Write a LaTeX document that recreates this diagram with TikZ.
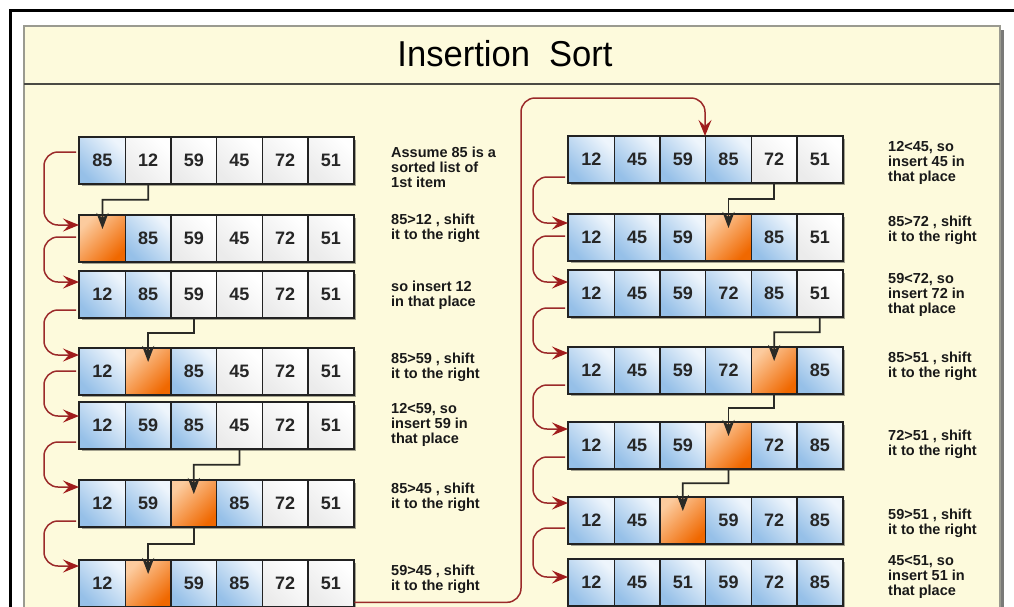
\documentclass[tikz,border=0pt]{standalone}
\usepackage{fontspec}
\usepackage{graphicx}
\setmainfont{Liberation Sans}
\usetikzlibrary{arrows.meta,calc}
\definecolor{cream}{HTML}{FDFADC}
\definecolor{redln}{HTML}{9B2A2A}
\definecolor{redhd}{HTML}{A01C1C}
\definecolor{blueL}{HTML}{EEF5FC}
\definecolor{blueD}{HTML}{96C0E8}
\definecolor{orgL}{HTML}{FCCB9E}
\definecolor{orgD}{HTML}{F06800}
\definecolor{whtL}{HTML}{FFFFFF}
\definecolor{whtD}{HTML}{EBEBEB}
\definecolor{cellbd}{HTML}{222222}
\definecolor{panelbd}{HTML}{9A9A90}
\definecolor{panelsh}{HTML}{7A7A78}
\definecolor{sepc}{HTML}{4A4A44}
\definecolor{blk}{HTML}{2A2A26}
\tikzset{
  cellbase/.style={draw=cellbd, line width=1.3pt, minimum width=45.67pt, minimum height=46pt,
    inner sep=0pt, anchor=north west, font=\bfseries\fontsize{18}{18}\selectfont, text=black!85},
  cB/.style={cellbase, top color=blueL, bottom color=blueD, shading angle=-45},
  cW/.style={cellbase, top color=whtL, bottom color=whtD, shading angle=-45},
  cO/.style={cellbase, top color=orgL, bottom color=orgD, shading angle=45},
  rowshadow/.style={fill=black, opacity=0.35},
  rowframe/.style={draw=cellbd, line width=1.8pt},
  lbl/.style={anchor=west, align=left, inner sep=0pt, font=\bfseries\fontsize{14.5}{15}\selectfont, text=black!90},
  titletext/.style={font=\fontsize{36}{36}\selectfont, text=black, inner sep=0pt},
  redarr/.style={draw=redln, line width=1.5pt, rounded corners=14pt,
    -{Stealth[length=16pt,width=13pt,inset=6pt,fill=redhd,color=redhd]}},
  blkarr/.style={draw=blk, line width=1.8pt, -{Stealth[length=16pt,width=12pt,inset=5pt]}}
}
\newcommand\cellrow[4]{%
  \fill[rowshadow] ([shift={(2.5,3)}]#2,#3) rectangle ([shift={(276.5,49)}]#2,#3);
  \foreach [count=\i] \sty/\val in {#4} {
    \node[\sty] (#1c\i) at ([shift={({(\i-1)*45.67},0)}]#2,#3) {\val};
  }
  \draw[rowframe] (#1c1.north west) rectangle (#1c6.south east);
}
\newcommand\blkshift[2]{%
  \draw[blkarr] (#1.south) -- ($(#1.south)!.5!(#1.south|-#2.north)$) -| ($(#2.north)+(0,14)$);
}
\newcommand\redbrk[4]{%
  \draw[redarr] ($(#1c1.north west)+(-3,#2)$) -- ++(-32,0) |- ($(#3c1.north west)+(0,#4)$);
}
\begin{document}
\begin{tikzpicture}[x=1pt,y=-1pt]
\useasboundingbox (0,0) rectangle (1014,606);
\fill[white] (0,0) rectangle (1014,606);
\draw[line width=3pt] (10,620) -- (10,10) -- (1020,10);
\fill[panelsh] (28,30) rectangle (1004,620);
\filldraw[fill=cream, draw=panelbd, line width=1.5pt] (24,26) rectangle (1000,620);
\draw[draw=sepc, line width=1.8pt] (24,84) -- (1000,84);
\node[titletext] (title) at (505,54) {\scalebox{0.96}[1]{Insertion\ \ Sort}};

\cellrow{La}{79}{137}{cB/85,cW/12,cW/59,cW/45,cW/72,cW/51}
\cellrow{Lb}{79}{215}{cO/{},cB/85,cW/59,cW/45,cW/72,cW/51}
\cellrow{Lc}{79}{271}{cB/12,cB/85,cW/59,cW/45,cW/72,cW/51}
\cellrow{Ld}{79}{348}{cB/12,cO/{},cB/85,cW/45,cW/72,cW/51}
\cellrow{Le}{79}{402}{cB/12,cB/59,cB/85,cW/45,cW/72,cW/51}
\cellrow{Lf}{79}{480}{cB/12,cB/59,cO/{},cB/85,cW/72,cW/51}
\cellrow{Lg}{79}{560}{cB/12,cO/{},cB/59,cB/85,cW/72,cW/51}

\cellrow{Ra}{568}{136}{cB/12,cB/45,cB/59,cB/85,cW/72,cW/51}
\cellrow{Rb}{568}{214}{cB/12,cB/45,cB/59,cO/{},cB/85,cW/51}
\cellrow{Rc}{568}{270}{cB/12,cB/45,cB/59,cB/72,cB/85,cW/51}
\cellrow{Rd}{568}{347}{cB/12,cB/45,cB/59,cB/72,cO/{},cB/85}
\cellrow{Re}{568}{422}{cB/12,cB/45,cB/59,cO/{},cB/72,cB/85}
\cellrow{Rf}{568}{497}{cB/12,cB/45,cO/{},cB/59,cB/72,cB/85}
\cellrow{Rg}{568}{559}{cB/12,cB/45,cB/51,cB/59,cB/72,cB/85}

\blkshift{Lac2}{Lbc1}
\blkshift{Lcc3}{Ldc2}
\blkshift{Lec4}{Lfc3}
\blkshift{Lfc3}{Lgc2}
\blkshift{Rac5}{Rbc4}
\blkshift{Rcc6}{Rdc5}
\blkshift{Rdc5}{Rec4}
\blkshift{Rec4}{Rfc3}

\redbrk{La}{15}{Lb}{10}
\redbrk{Lb}{22}{Lc}{11}
\redbrk{Lc}{39}{Ld}{7}
\redbrk{Ld}{23}{Le}{14}
\redbrk{Le}{40}{Lf}{7}
\redbrk{Lf}{41}{Lg}{6}
\redbrk{Ra}{41}{Rb}{9}
\redbrk{Rb}{22}{Rc}{12}
\redbrk{Rc}{38}{Rd}{6}
\redbrk{Rd}{38}{Re}{7}
\redbrk{Re}{35}{Rf}{6}
\redbrk{Rf}{31}{Rg}{18}

\coordinate (bigA) at (521,98);
\draw[redarr] ($(Lgc6.south east)+(0,-5)$) -| (bigA) -| (Rac4.north west);

\node[lbl] (t1) at (391,167) {Assume 85 is a\\sorted list of\\1st item};
\node[lbl] (t2) at (391,228) {85>12 , shift\\it to the right};
\node[lbl] (t3) at (391,295) {so insert 12\\in that place};
\node[lbl] (t4) at (391,367) {85>59 , shift\\it to the right};
\node[lbl] (t5) at (391,425) {12<59, so\\insert 59 in\\that place};
\node[lbl] (t6) at (391,497) {85>45 , shift\\it to the right};
\node[lbl] (t7) at (391,579) {59>45 , shift\\it to the right};

\node[lbl] (u1) at (888,163) {12<45, so\\insert 45 in\\that place};
\node[lbl] (u2) at (888,230) {85>72 , shift\\it to the right};
\node[lbl] (u3) at (888,295) {59<72, so\\insert 72 in\\that place};
\node[lbl] (u4) at (888,366) {85>51 , shift\\it to the right};
\node[lbl] (u5) at (888,444) {72>51 , shift\\it to the right};
\node[lbl] (u6) at (888,523) {59>51 , shift\\it to the right};
\node[lbl] (u7) at (888,577) {45<51, so\\insert 51 in\\that place};
\end{tikzpicture}
\end{document}
